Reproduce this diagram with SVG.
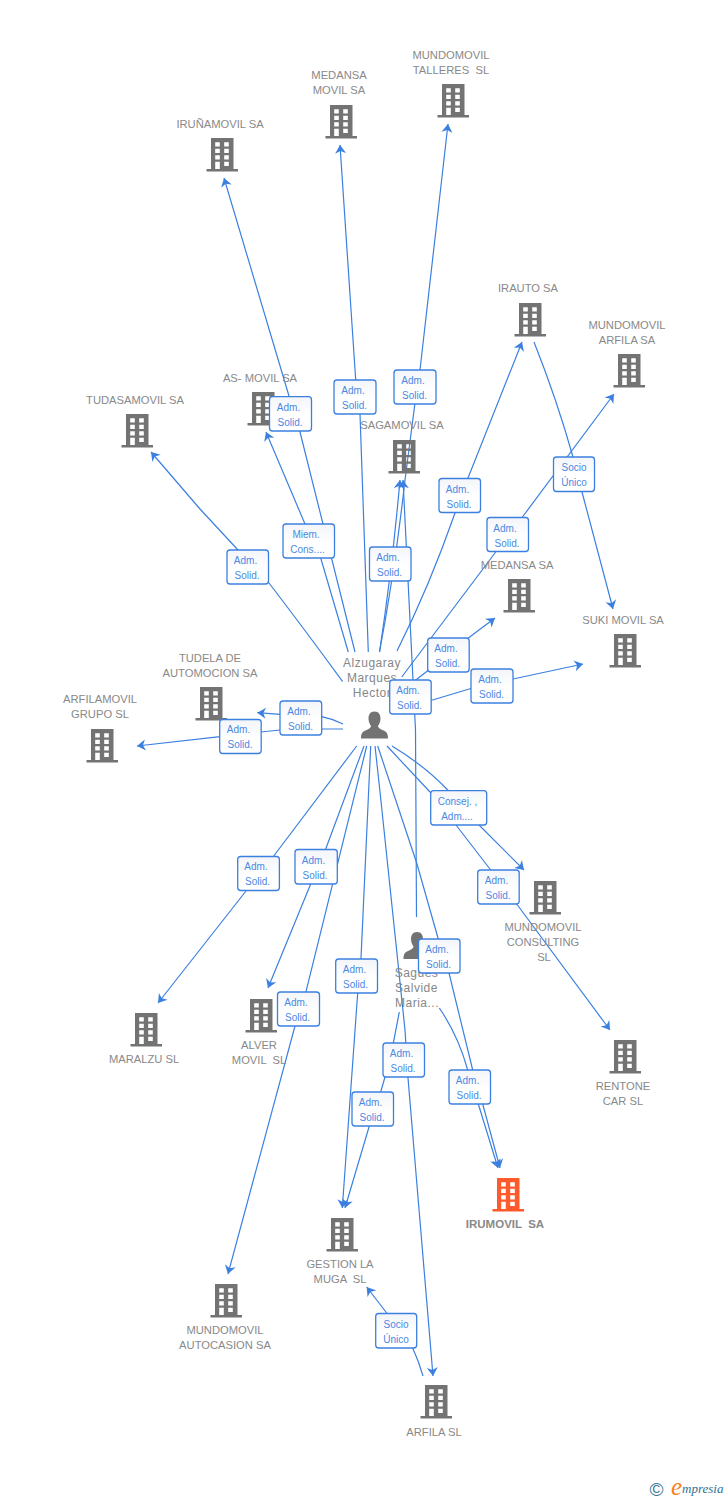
<svg xmlns="http://www.w3.org/2000/svg" width="728" height="1500" viewBox="0 0 728 1500">
<style>
text{font-family:"Liberation Sans",Arial,sans-serif}
.n{font-size:11.2px;fill:#898989;text-anchor:middle;white-space:pre}
.o{font-size:11.5px;font-weight:bold}
.h{font-size:12px;fill:#878787;text-anchor:middle;letter-spacing:.5px}
.c path{fill:none;stroke:#3b80e0;stroke-width:1.2}
.a{marker-end:url(#arr)}
.l rect{fill:url(#g);stroke:#3b80e0;stroke-width:1.3}
.l text{font-size:10px;fill:#4a88e4;text-anchor:middle}
</style>
<defs>
<marker id="arr" viewBox="0 0 12 12" refX="10" refY="6" markerWidth="12" markerHeight="12" markerUnits="userSpaceOnUse" orient="auto"><path d="M1.500 .5L10 6L1.500 11.500L4 6Z" fill="#3b80e0"/></marker>
<linearGradient id="g" x1="0" y1="0" x2="0" y2="1"><stop offset="0" stop-color="#f3f5f9"/><stop offset=".55" stop-color="#fff"/><stop offset="1" stop-color="#fff"/></linearGradient>
<path id="bp" fill-rule="evenodd" d="M-11 0H11.500V31H16V33.500H-15.500V31H-11ZM-6.800 4.200V8.500H-2.200V4.200ZM2.200 4.200V8.500H6.800V4.200ZM-6.800 10.700V15H-2.200V10.700ZM2.200 10.700V15H6.800V10.700ZM-6.800 17.200V21.500H-2.200V17.200ZM2.200 17.200V21.500H6.800V17.200ZM-6.800 23.700V31H-2.200V23.700ZM2.200 23.700V28H6.800V23.700Z"/>
<use id="b" href="#bp" fill="#737373"/>
<use id="bo" href="#bp" fill="#ff5a2c"/>
<path id="p" fill="#737373" d="M0 0C4.500 0 6 3.500 6 7C6 10.500 4.500 13 3.500 14.500C3.500 16.500 6 17.500 9 19C12 20.500 13.500 21.500 13.500 27H-13.500C-13.500 21.500 -12 20.500 -9 19C-6 17.500 -3.500 16.500 -3.500 14.500C-4.500 13 -6 10.500 -6 7C-6 3.500 -4.500 0 0 0Z"/>
</defs>
<rect width="728" height="1500" fill="#fff"/>
<g class="c" id="connectors">
<path class="a" d="M355 652L300 432L289 396L224 178"/>
<path class="a" d="M348.300 652L320.700 558L305 524L266 432"/>
<path class="a" d="M368.300 652L360 414L355.700 380L340 145"/>
<path class="a" d="M379.500 652Q395 570 405 480L415 403L420 370L448 124"/>
<path class="a" d="M379.500 652Q392 570 400 480"/>
<path class="a" d="M416.500 917L415.500 730L413 680L403 480"/>
<path class="a" d="M397 651Q430 585 455 513L468 478L522 342"/>
<path class="a" d="M401.700 677L495.700 552L521.700 518L614 394"/>
<path class="a" d="M403 690L427.700 670.700L469.300 637.300L495 618"/>
<path class="a" d="M406.700 707.700L471.700 688.300L513 679L583 664"/>
<path class="a" d="M343 724Q333 719 321.700 716.700L280 714.300L257.300 712.700"/>
<path class="a" d="M343 729L322 729L280 730L261 732L220 736.700L137 746"/>
<path class="a" d="M342.700 681.700Q305 630 269 583L238 550L200 509L151 452"/>
<path class="a" d="M534 342Q557 400 573 457L582 492L613 609"/>
<path class="a" d="M392 746Q425 766 447.700 790L479 825L524 870"/>
<path class="a" d="M387 746L430 792L456 825L490.700 870L516.700 904L610 1030"/>
<path class="a" d="M356.700 746L273 857L246 891L158 1003"/>
<path class="a" d="M364 746L325.700 849L310.700 884L268 988"/>
<path class="a" d="M366.700 746L306 991.700L295 1026L228 1274"/>
<path class="a" d="M370.700 746L361 958L357.700 993L342.300 1208"/>
<path class="a" d="M375 746L380 791.700L405 1030L408 1078L433 1376"/>
<path class="a" d="M377.700 746L416.700 863L438 938L449 973L472.700 1070L482.700 1104L500 1168"/>
<path class="a" d="M439.300 1008Q458 1035 467.700 1070L478.300 1104L498 1168"/>
<path class="a" d="M399.300 1012L393.300 1043L385 1077L380.700 1092L369.300 1126L345 1208"/>
<path class="a" d="M423 1376Q419 1362 412.700 1348L386.700 1313L366.700 1287"/>
</g>
<g id="n-talleres"><use href="#b" x="453" y="84"/><text class="n" x="451" y="59">MUNDOMOVIL</text><text class="n" x="451" y="74">TALLERES  SL</text></g>
<g id="n-medansa-movil"><use href="#b" x="341" y="105"/><text class="n" x="339" y="79">MEDANSA</text><text class="n" x="339" y="94">MOVIL SA</text></g>
<g id="n-irunamovil"><use href="#b" x="222" y="138"/><text class="n" x="220" y="128">IRUÑAMOVIL SA</text></g>
<g id="n-as-movil"><use href="#b" x="263" y="392"/><text class="n" x="260" y="382">AS- MOVIL SA</text></g>
<g id="n-sagamovil"><use href="#b" x="404" y="440"/><text class="n" x="402" y="429">SAGAMOVIL SA</text></g>
<g id="n-tudasamovil"><use href="#b" x="137" y="414"/><text class="n" x="135" y="404">TUDASAMOVIL SA</text></g>
<g id="n-irauto"><use href="#b" x="530" y="303"/><text class="n" x="528" y="292">IRAUTO SA</text></g>
<g id="n-mundomovil-arfila"><use href="#b" x="629" y="354"/><text class="n" x="627" y="329">MUNDOMOVIL</text><text class="n" x="627" y="344">ARFILA SA</text></g>
<g id="n-medansa"><use href="#b" x="519" y="579"/><text class="n" x="517" y="569">MEDANSA SA</text></g>
<g id="n-suki"><use href="#b" x="625" y="634"/><text class="n" x="623" y="624">SUKI MOVIL SA</text></g>
<g id="n-tudela"><use href="#b" x="211" y="687"/><text class="n" x="210" y="662">TUDELA DE</text><text class="n" x="210" y="677">AUTOMOCION SA</text></g>
<g id="n-arfilamovil"><use href="#b" x="102" y="729"/><text class="n" x="100" y="703">ARFILAMOVIL</text><text class="n" x="100" y="718">GRUPO SL</text></g>
<g id="n-consulting"><use href="#b" x="545" y="881"/><text class="n" x="543" y="931">MUNDOMOVIL</text><text class="n" x="543" y="946">CONSULTING</text><text class="n" x="544" y="961">SL</text></g>
<g id="n-rentone"><use href="#b" x="625" y="1040"/><text class="n" x="623" y="1090">RENTONE</text><text class="n" x="623" y="1105">CAR SL</text></g>
<g id="n-maralzu"><use href="#b" x="146" y="1013"/><text class="n" x="144" y="1063">MARALZU SL</text></g>
<g id="n-alver"><use href="#b" x="261" y="999"/><text class="n" x="259" y="1049">ALVER</text><text class="n" x="259" y="1064">MOVIL  SL</text></g>
<g id="n-irumovil"><use href="#bo" x="508" y="1178"/><text class="n o" x="505" y="1228">IRUMOVIL  SA</text></g>
<g id="n-gestion"><use href="#b" x="342" y="1218"/><text class="n" x="340" y="1268">GESTION LA</text><text class="n" x="340" y="1283">MUGA  SL</text></g>
<g id="n-autocasion"><use href="#b" x="226" y="1284"/><text class="n" x="225" y="1334">MUNDOMOVIL</text><text class="n" x="225" y="1349">AUTOCASION SA</text></g>
<g id="n-arfila"><use href="#b" x="436" y="1385"/><text class="n" x="434" y="1436">ARFILA SL</text></g>
<g id="n-hub"><use href="#p" x="374.500" y="711.500"/><text class="h" x="372" y="667">Alzugaray</text><text class="h" x="372" y="682">Marques</text><text class="h" x="372" y="697">Hector</text></g>
<g id="n-sagues"><use href="#p" x="417" y="932"/><text class="h" x="416.500" y="977">Sagues</text><text class="h" x="416.500" y="992">Salvide</text><text class="h" x="417" y="1007">Maria...</text></g>
<g id="labels">
<g class="l"><rect x="269.500" y="396.700" width="42" height="34.300" rx="3"/><text x="288.500" y="410.500">Adm.</text><text x="290" y="425.500">Solid.</text></g>
<g class="l"><rect x="334" y="380" width="42" height="34" rx="3"/><text x="353" y="394">Adm.</text><text x="354.500" y="409">Solid.</text></g>
<g class="l"><rect x="394" y="370" width="42" height="34" rx="3"/><text x="413" y="384">Adm.</text><text x="414.500" y="399">Solid.</text></g>
<g class="l"><rect x="439" y="478.500" width="41.500" height="34" rx="3"/><text x="457.500" y="492.500">Adm.</text><text x="459" y="507.500">Solid.</text></g>
<g class="l"><rect x="487" y="517.500" width="41.500" height="34" rx="3"/><text x="505" y="531.500">Adm.</text><text x="507" y="546.500">Solid.</text></g>
<g class="l"><rect x="553.500" y="457" width="41" height="34.500" rx="3"/><text x="574" y="471">Socio</text><text x="574" y="486">Único</text></g>
<g class="l"><rect x="283" y="524" width="51.500" height="34" rx="3"/><text x="306" y="537.500">Miem.</text><text x="307.500" y="552.500">Cons....</text></g>
<g class="l"><rect x="227" y="550" width="41.500" height="34" rx="3"/><text x="245.500" y="564">Adm.</text><text x="247" y="579">Solid.</text></g>
<g class="l"><rect x="369.500" y="547" width="41.500" height="34" rx="3"/><text x="388" y="561">Adm.</text><text x="389.500" y="576">Solid.</text></g>
<g class="l"><rect x="427.700" y="638" width="41.500" height="34" rx="3"/><text x="446" y="652">Adm.</text><text x="447.500" y="667">Solid.</text></g>
<g class="l"><rect x="471" y="669" width="42" height="34" rx="3"/><text x="490" y="683">Adm.</text><text x="491.500" y="698">Solid.</text></g>
<g class="l"><rect x="389.700" y="680" width="41.500" height="34" rx="3"/><text x="408" y="694">Adm.</text><text x="409.500" y="709">Solid.</text></g>
<g class="l"><rect x="280" y="701" width="41.700" height="34" rx="3"/><text x="299" y="715">Adm.</text><text x="300.500" y="730">Solid.</text></g>
<g class="l"><rect x="219.700" y="719.500" width="41.500" height="34" rx="3"/><text x="238.500" y="733">Adm.</text><text x="240" y="748">Solid.</text></g>
<g class="l"><rect x="430.700" y="790.700" width="56" height="34.300" rx="3"/><text x="457.500" y="804.500">Consej. ,</text><text x="457" y="819.500">Adm....</text></g>
<g class="l"><rect x="477.700" y="870" width="41.500" height="34" rx="3"/><text x="496.500" y="884">Adm.</text><text x="498" y="899">Solid.</text></g>
<g class="l"><rect x="237.700" y="856.500" width="41.700" height="34" rx="3"/><text x="256" y="870">Adm.</text><text x="257.500" y="885">Solid.</text></g>
<g class="l"><rect x="295" y="849.500" width="42.300" height="34.500" rx="3"/><text x="313.500" y="863.500">Adm.</text><text x="315" y="878.500">Solid.</text></g>
<g class="l"><rect x="277.500" y="992" width="42" height="34" rx="3"/><text x="296" y="1006">Adm.</text><text x="297.500" y="1021">Solid.</text></g>
<g class="l"><rect x="335.700" y="959" width="41.800" height="34" rx="3"/><text x="354.500" y="973">Adm.</text><text x="355.500" y="988">Solid.</text></g>
<g class="l"><rect x="418.500" y="939" width="41.500" height="34" rx="3"/><text x="437" y="953">Adm.</text><text x="438.500" y="968">Solid.</text></g>
<g class="l"><rect x="383" y="1043" width="41.500" height="34" rx="3"/><text x="401.500" y="1057">Adm.</text><text x="403" y="1072">Solid.</text></g>
<g class="l"><rect x="352" y="1092" width="41.500" height="34" rx="3"/><text x="370.500" y="1106">Adm.</text><text x="372" y="1121">Solid.</text></g>
<g class="l"><rect x="449" y="1070" width="41.500" height="34" rx="3"/><text x="467.500" y="1084">Adm.</text><text x="469" y="1099">Solid.</text></g>
<g class="l"><rect x="375.700" y="1313.500" width="41" height="34.500" rx="3"/><text x="396" y="1327.500">Socio</text><text x="396" y="1342.500">Único</text></g>
</g>
<g id="logo"><text x="649.500" y="1496" font-size="19" fill="#3b7a94">©</text><text x="671" y="1495" font-size="25" font-style="italic" fill="#f58220" style="font-family:'Liberation Serif',serif">e</text><text x="682" y="1493" font-size="13" font-style="italic" fill="#2f6f8f" style="font-family:'Liberation Serif',serif">mpresia</text></g>
</svg>
